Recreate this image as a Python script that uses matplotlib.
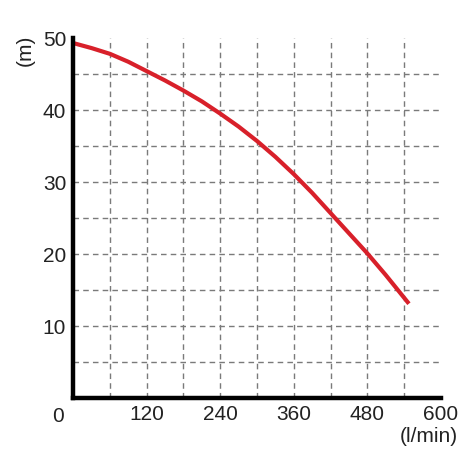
import matplotlib
matplotlib.use("Agg")
import matplotlib.pyplot as plt

# flow (l/min) and head (m)
flow = [0, 30, 60, 90, 120, 150, 180, 210, 240, 270, 300, 330, 360, 390,
        420, 450, 480, 510, 548]
head = [49.3, 48.6, 47.8, 46.7, 45.4, 44.1, 42.7, 41.2, 39.5, 37.7, 35.7,
        33.5, 31.1, 28.5, 25.7, 22.9, 20.1, 17.1, 13.1]

x_ticks = [120, 240, 360, 480, 600]
y_ticks = [10, 20, 30, 40, 50]

plt.rcParams['font.family'] = ['Liberation Sans', 'DejaVu Sans']
txt = "#222222"

fig = plt.figure(figsize=(4.75, 4.75), dpi=100)
ax = fig.add_axes([0.154, 0.162, 0.774, 0.758])

# dashed grid every 60 l/min and every 5 m
for gx in range(60, 600, 60):
    ax.plot([gx, gx], [0, 50], color="#7a7a7a", lw=1.0, ls=(0, (4, 3)), zorder=1)
for gy in range(5, 50, 5):
    ax.plot([0, 600], [gy, gy], color="#7a7a7a", lw=1.0, ls=(0, (4, 3)), zorder=1)

ax.plot(flow, head, color="#d8202a", lw=3.0, solid_capstyle="butt",
        solid_joinstyle="round", zorder=3)

ax.set_xlim(0, 600)
ax.set_ylim(0, 50)
ax.set_xticks(x_ticks)
ax.set_yticks(y_ticks)
ax.tick_params(length=0, labelsize=15, colors=txt, pad=5)
for s in ["top", "right"]:
    ax.spines[s].set_visible(False)
for s in ["left", "bottom"]:
    ax.spines[s].set_linewidth(3.2)
    ax.spines[s].set_color("black")
    ax.spines[s].set_zorder(4)

ax.text(-24, -2.6, "0", fontsize=15, color=txt, ha="center", va="center")
ax.text(628, -5.4, "(l/min)", fontsize=15, color=txt, ha="right", va="center")
ax.text(-78, 48.3, "(m)", fontsize=15, color=txt, ha="center", va="center",
        rotation=90)

fig.savefig("out.png", dpi=100)
